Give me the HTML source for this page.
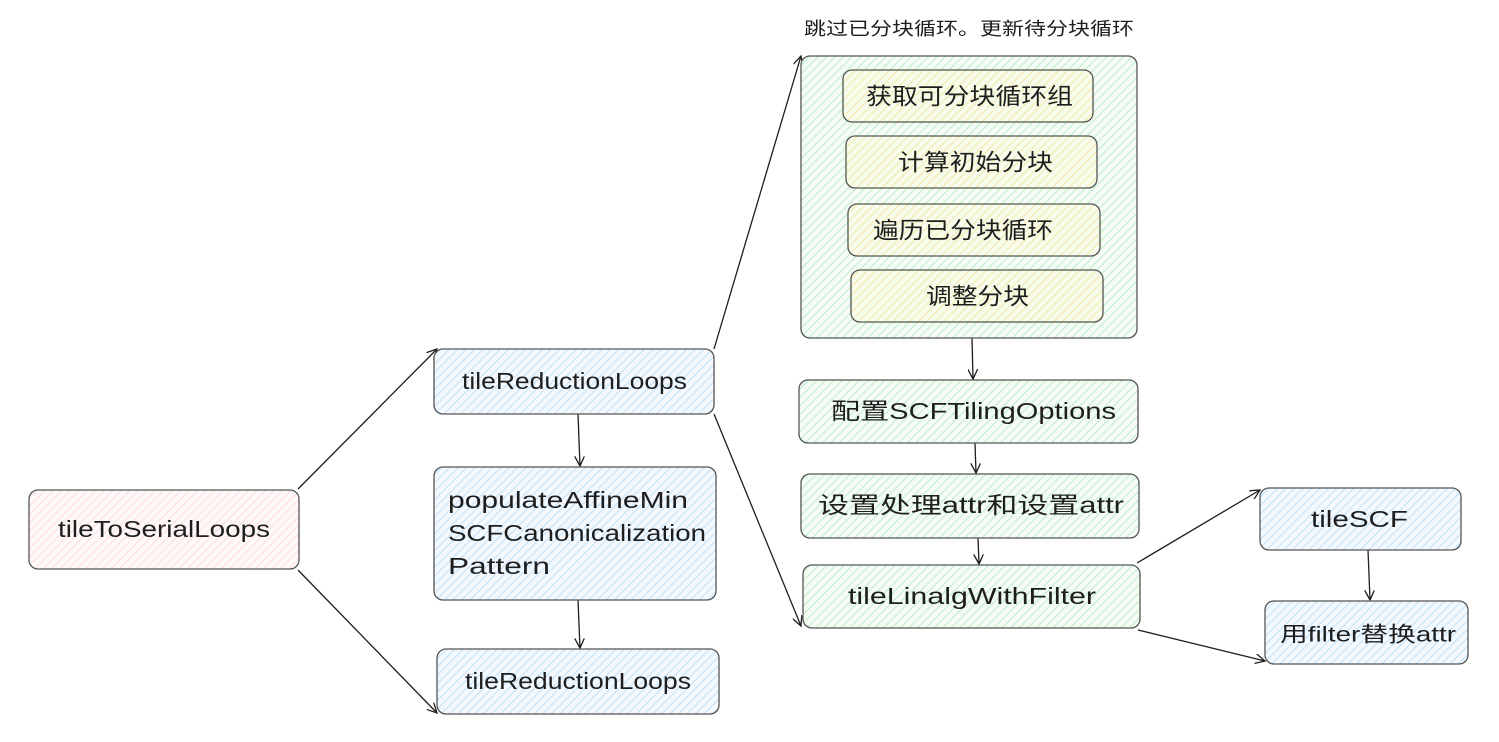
<!DOCTYPE html>
<html><head><meta charset="utf-8"><style>
html,body{margin:0;padding:0;background:#fff;}
svg text{font-family:"Liberation Sans","Noto Sans CJK SC",sans-serif;fill:#1e1e1e;}
</style></head><body>
<svg width="1499" height="737" viewBox="0 0 1499 737" xmlns="http://www.w3.org/2000/svg">
<defs>
<pattern id="pk" width="6" height="6" patternUnits="userSpaceOnUse" patternTransform="rotate(-45)"><rect width="6" height="6" fill="#fff9f9"/><rect width="6" height="1.2" fill="#ffe0e0"/></pattern>
<pattern id="bl" width="6" height="6" patternUnits="userSpaceOnUse" patternTransform="rotate(-45)"><rect width="6" height="6" fill="#f3f9fe"/><rect width="6" height="1.2" fill="#c9e4f9"/></pattern>
<pattern id="gr" width="6" height="6" patternUnits="userSpaceOnUse" patternTransform="rotate(-45)"><rect width="6" height="6" fill="#f5fcf6"/><rect width="6" height="1.2" fill="#c5eecf"/></pattern>
<pattern id="ye" width="6" height="6" patternUnits="userSpaceOnUse" patternTransform="rotate(-45)"><rect width="6" height="6" fill="#f8fcec"/><rect width="6" height="1.2" fill="#f3eab0"/></pattern>
<marker id="ar" markerWidth="12" markerHeight="10" refX="10" refY="5" orient="auto" markerUnits="userSpaceOnUse"><path d="M0,0 L10,5 L0,10" fill="none" stroke="#1e1e1e" stroke-width="1.3"/></marker>
</defs>
<g stroke="#1e1e1e" stroke-width="1.3" fill="none" marker-end="url(#ar)">
<line x1="298" y1="489" x2="437" y2="349"/>
<line x1="298" y1="570" x2="437" y2="713"/>
<line x1="578" y1="414" x2="580" y2="466"/>
<line x1="578" y1="600" x2="580" y2="648"/>
<line x1="714" y1="349" x2="801" y2="56"/>
<line x1="714" y1="414" x2="801" y2="626"/>
<line x1="972" y1="338" x2="973" y2="379"/>
<line x1="975" y1="443" x2="976" y2="473"/>
<line x1="978" y1="538" x2="979" y2="564"/>
<line x1="1137" y1="563" x2="1260" y2="490"/>
<line x1="1138" y1="630" x2="1265" y2="661"/>
<line x1="1368" y1="550" x2="1370" y2="600"/>
</g>
<g stroke="#555" stroke-width="1.3">
<rect x="29" y="490" width="270" height="79" rx="9" fill="url(#pk)"/>
<rect x="434" y="349" width="280" height="65" rx="9" fill="url(#bl)"/>
<rect x="434" y="467" width="282" height="133" rx="9" fill="url(#bl)"/>
<rect x="437" y="649" width="282" height="65" rx="9" fill="url(#bl)"/>
<rect x="801" y="56" width="336" height="282" rx="9" fill="url(#gr)"/>
<rect x="843" y="70" width="250" height="52" rx="9" fill="url(#ye)"/>
<rect x="846" y="136" width="251" height="52" rx="9" fill="url(#ye)"/>
<rect x="848" y="204" width="252" height="52" rx="9" fill="url(#ye)"/>
<rect x="851" y="270" width="252" height="52" rx="9" fill="url(#ye)"/>
<rect x="799" y="380" width="339" height="63" rx="9" fill="url(#gr)"/>
<rect x="801" y="474" width="338" height="64" rx="9" fill="url(#gr)"/>
<rect x="803" y="565" width="337" height="63" rx="9" fill="url(#gr)"/>
<rect x="1260" y="488" width="201" height="62" rx="9" fill="url(#bl)"/>
<rect x="1265" y="601" width="203" height="63" rx="9" fill="url(#bl)"/>
</g>
<g font-size="23" dominant-baseline="central" lengthAdjust="spacingAndGlyphs">
<text x="58" y="529" textLength="212" lengthAdjust="spacingAndGlyphs">tileToSerialLoops</text>
<text x="462" y="381" textLength="225" lengthAdjust="spacingAndGlyphs">tileReductionLoops</text>
<text x="465" y="681" textLength="226" lengthAdjust="spacingAndGlyphs">tileReductionLoops</text>
<text x="866" y="96" textLength="207" lengthAdjust="spacingAndGlyphs">获取可分块循环组</text>
<text x="898" y="162" textLength="155" lengthAdjust="spacingAndGlyphs">计算初始分块</text>
<text x="873" y="230" textLength="180" lengthAdjust="spacingAndGlyphs">遍历已分块循环</text>
<text x="926" y="296" textLength="103" lengthAdjust="spacingAndGlyphs">调整分块</text>
<text x="831" y="411" textLength="285" lengthAdjust="spacingAndGlyphs">配置SCFTilingOptions</text>
<text x="818" y="505" textLength="306" lengthAdjust="spacingAndGlyphs">设置处理attr和设置attr</text>
<text x="848" y="596" textLength="248" lengthAdjust="spacingAndGlyphs">tileLinalgWithFilter</text>
<text x="1311" y="519" textLength="97" lengthAdjust="spacingAndGlyphs">tileSCF</text>
<text x="1280" y="635" font-size="21" textLength="176" lengthAdjust="spacingAndGlyphs">用filter替换attr</text>
<text x="804" y="29" font-size="18" textLength="330" lengthAdjust="spacingAndGlyphs">跳过已分块循环。更新待分块循环</text>
<text x="448" y="500" textLength="240" lengthAdjust="spacingAndGlyphs">populateAffineMin</text>
<text x="448" y="533" textLength="258" lengthAdjust="spacingAndGlyphs">SCFCanonicalization</text>
<text x="448" y="566" textLength="102" lengthAdjust="spacingAndGlyphs">Pattern</text>
</g>
</svg>
</body></html>
